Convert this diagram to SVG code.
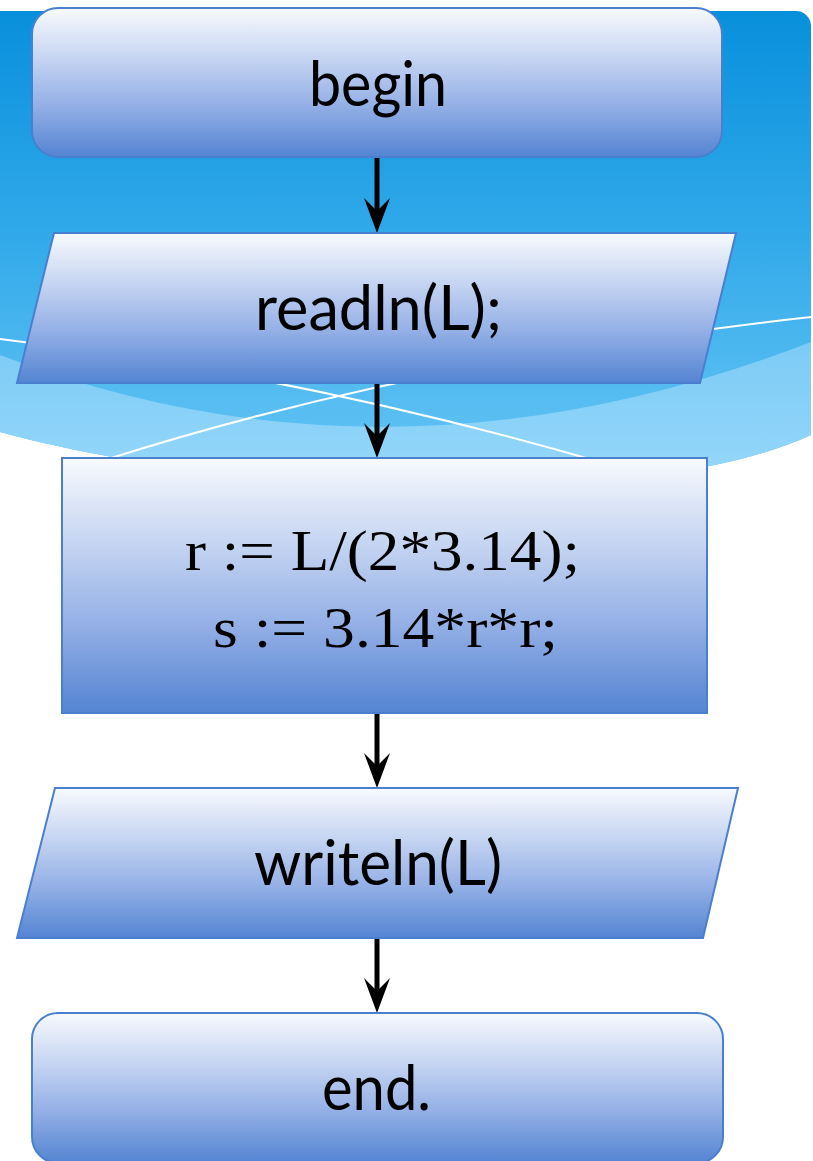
<svg xmlns="http://www.w3.org/2000/svg" width="813" height="1161" viewBox="0 0 813 1161">
  <defs>
    <linearGradient id="bg" x1="0" y1="0" x2="0" y2="1">
      <stop offset="0" stop-color="#0890dc"/>
      <stop offset="0.45" stop-color="#2fa8e9"/>
      <stop offset="0.8" stop-color="#55bcf1"/>
      <stop offset="1" stop-color="#62c4f5"/>
    </linearGradient>
    <linearGradient id="band" x1="0" y1="0" x2="0" y2="1">
      <stop offset="0" stop-color="#7ccbf6"/>
      <stop offset="1" stop-color="#97d8fa"/>
    </linearGradient>
    <linearGradient id="node" x1="0" y1="0" x2="0" y2="1">
      <stop offset="0" stop-color="#f8fafd"/>
      <stop offset="0.35" stop-color="#c3d3f1"/>
      <stop offset="0.65" stop-color="#94b0e6"/>
      <stop offset="1" stop-color="#5484d2"/>
    </linearGradient>
    <marker id="ah" viewBox="0 0 36 26" refX="15" refY="13" markerWidth="36" markerHeight="26" markerUnits="userSpaceOnUse" orient="auto">
      <path d="M0,0 L35,13 L0,26 L13,13 Z" fill="#000"/>
    </marker>
    <style>
      .shape { fill: url(#node); stroke: #4a7fcf; stroke-width: 2; }
      .sans { font-family: Lato, "Open Sans", "Liberation Sans", sans-serif; font-size: 62px; fill: #000; }
      .serif { font-family: "Liberation Serif", "Times New Roman", serif; font-size: 56px; fill: #000; }
      .conn { stroke: #000; stroke-width: 5; fill: none; }
      .wline { stroke: #fff; stroke-width: 2; fill: none; }
    </style>
  </defs>

  <g id="background">
    <rect x="0" y="0" width="813" height="1161" fill="#fff"/>
    <path d="M0,11 H796 A15,15 0 0 1 811,26 V435 C650,510 250,500 0,432 Z" fill="url(#bg)"/>
    <path d="M0,355 Q390,505 811,342 V435 C650,510 250,500 0,432 Z" fill="url(#band)"/>
    <path class="wline" d="M0,339 Q300,375 600,462"/>
    <path class="wline" d="M108,459 Q420,360 811,317"/>
  </g>

  <g id="connectors">
    <line class="conn" x1="377" y1="157" x2="377" y2="213" marker-end="url(#ah)"/>
    <line class="conn" x1="377" y1="383" x2="377" y2="438" marker-end="url(#ah)"/>
    <line class="conn" x1="377" y1="713" x2="377" y2="768" marker-end="url(#ah)"/>
    <line class="conn" x1="377" y1="938" x2="377" y2="993" marker-end="url(#ah)"/>
  </g>

  <g id="node-begin">
    <rect class="shape" x="32" y="8" width="690" height="149" rx="26" ry="26"/>
    <text class="sans" x="309" y="106" textLength="138" lengthAdjust="spacingAndGlyphs">begin</text>
  </g>

  <g id="node-readln">
    <polygon class="shape" points="54,233 736,233 700,383 17,383"/>
    <text class="sans" x="255" y="330" textLength="247" lengthAdjust="spacingAndGlyphs">readln(L);</text>
  </g>

  <g id="node-process">
    <rect class="shape" x="62" y="458" width="645" height="255"/>
    <text class="serif" x="185" y="570" textLength="395" lengthAdjust="spacingAndGlyphs">r := L/(2*3.14);</text>
    <text class="serif" x="213" y="647" textLength="345" lengthAdjust="spacingAndGlyphs">s := 3.14*r*r;</text>
  </g>

  <g id="node-writeln">
    <polygon class="shape" points="55,788 738,788 703,938 17,938"/>
    <text class="sans" x="254" y="885" textLength="248" lengthAdjust="spacingAndGlyphs">writeln(L)</text>
  </g>

  <g id="node-end">
    <rect class="shape" x="32" y="1013" width="691" height="150" rx="26" ry="26"/>
    <text class="sans" x="322" y="1110" textLength="109" lengthAdjust="spacingAndGlyphs">end.</text>
  </g>
</svg>
